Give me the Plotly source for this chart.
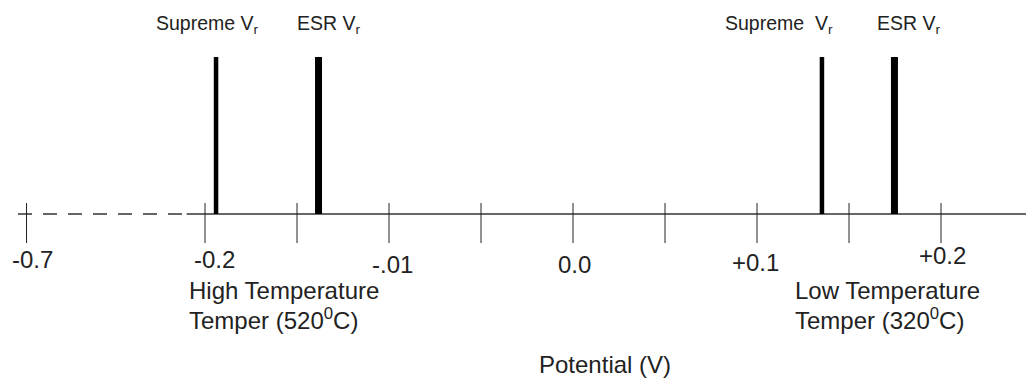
import plotly.graph_objects as go

# ---- data ----
tick_values = [-0.2, -0.15, -0.1, -0.05, 0.0, 0.05, 0.1, 0.15, 0.2]
label_values = [-0.2, -0.1, 0.0, 0.1, 0.2]
label_texts = ["-0.2", "-.01", "0.0", "+0.1", "+0.2"]
break_value_text = "-0.7"
break_display_pos = -0.297   # where the -0.7 tick sits on the broken axis
break_start = -0.21          # axis is dashed left of this value

vr_names = ["Supreme", "ESR", "Supreme", "ESR"]
vr_values = [-0.194, -0.1383, 0.1353, 0.1747]
temper_labels = [["High Temperature", "Temper (520<sup>0</sup>C)"],
                 ["Low Temperature", "Temper (320<sup>0</sup>C)"]]
temper_anchor = [-0.2098, 0.1195]
axis_title = "Potential (V)"

# ---- layout constants (pixel-based) ----
W, H = 1026, 379
axis_px = 214
PX_PER_V = 1840.0
ZERO_PX = 573
x0 = -ZERO_PX / PX_PER_V
x1 = (W - ZERO_PX) / PX_PER_V
y_lo, y_hi = -(H - axis_px), axis_px  # y units = px above axis line

TXT = "#222222"
FONT = "Liberation Sans, Arial, sans-serif"
FS = 24

fig = go.Figure()

# axis line: dashed part then solid part
fig.add_trace(go.Scatter(x=[(18 - ZERO_PX) / PX_PER_V, break_start], y=[0, 0], mode="lines",
                         line=dict(color="#333333", width=1.5, dash="14px,11px"),
                         hoverinfo="skip", showlegend=False))
fig.add_trace(go.Scatter(x=[break_start, x1], y=[0, 0], mode="lines",
                         line=dict(color="#333333", width=1.5),
                         hoverinfo="skip", showlegend=False))

# tick marks
tx, ty = [], []
for v in [break_display_pos] + tick_values:
    tx += [v, v, None]
    ty += [11, -29, None]
fig.add_trace(go.Scatter(x=tx, y=ty, mode="lines", line=dict(color="#222222", width=1),
                         hoverinfo="skip", showlegend=False))

# Vr bars
for name, v in zip(vr_names, vr_values):
    w = 4.5 if name == "Supreme" else 7
    fig.add_trace(go.Scatter(x=[v, v], y=[0, 157], mode="lines",
                             line=dict(color="#000000", width=w),
                             hoverinfo="skip", showlegend=False))

ann = []
# tick labels
ann.append(dict(x=break_display_pos, y=axis_px - 259, text=break_value_text, xshift=6))
shifts = {-0.2: 9, -0.1: 3, 0.0: 1, 0.1: -2, 0.2: 1.5}
ypos = {-0.2: 259, -0.1: 264, 0.0: 264, 0.1: 262.5, 0.2: 255.5}
for v, t in zip(label_values, label_texts):
    ann.append(dict(x=v, y=axis_px - ypos[v], text=t, xshift=shifts[v]))
for a in ann:
    a.update(xref="x", yref="y", showarrow=False, xanchor="center", yanchor="middle",
             font=dict(family=FONT, size=FS, color=TXT))

# temper labels
for lines, xa in zip(temper_labels, temper_anchor):
    for i, t in enumerate(lines):
        ann.append(dict(x=xa, y=axis_px - (290 + 28.5 * i), text=t, xref="x", yref="y",
                        showarrow=False, xanchor="left", yanchor="middle",
                        font=dict(family=FONT, size=FS, color=TXT)))

# axis title
ann.append(dict(x=(605 - ZERO_PX) / PX_PER_V, y=axis_px - 364, text=axis_title, xref="x", yref="y",
                showarrow=False, xanchor="center", yanchor="middle",
                font=dict(family=FONT, size=FS, color=TXT)))

# top Vr labels
top_left_px = [154, 295, 723, 875]
for name, v, lp in zip(vr_names, vr_values, top_left_px):
    sep = "&nbsp;&nbsp;" if (name == "Supreme" and v > 0) else " "
    ann.append(dict(x=v, y=axis_px - 24, text=name + sep + "V<sub>r</sub>", xref="x", yref="y",
                    xshift=lp - (v * PX_PER_V + ZERO_PX), showarrow=False,
                    xanchor="left", yanchor="middle",
                    font=dict(family=FONT, size=19.5, color=TXT)))

fig.update_layout(
    width=W, height=H, margin=dict(l=0, r=0, t=0, b=0),
    paper_bgcolor="white", plot_bgcolor="white",
    xaxis=dict(range=[x0, x1], visible=False, fixedrange=True),
    yaxis=dict(range=[y_lo, y_hi], visible=False, fixedrange=True),
    annotations=ann, showlegend=False,
)
fig.write_html("out.html", config={"displayModeBar": False},
               post_script="document.body.style.margin='0';document.body.style.overflow='hidden';")
